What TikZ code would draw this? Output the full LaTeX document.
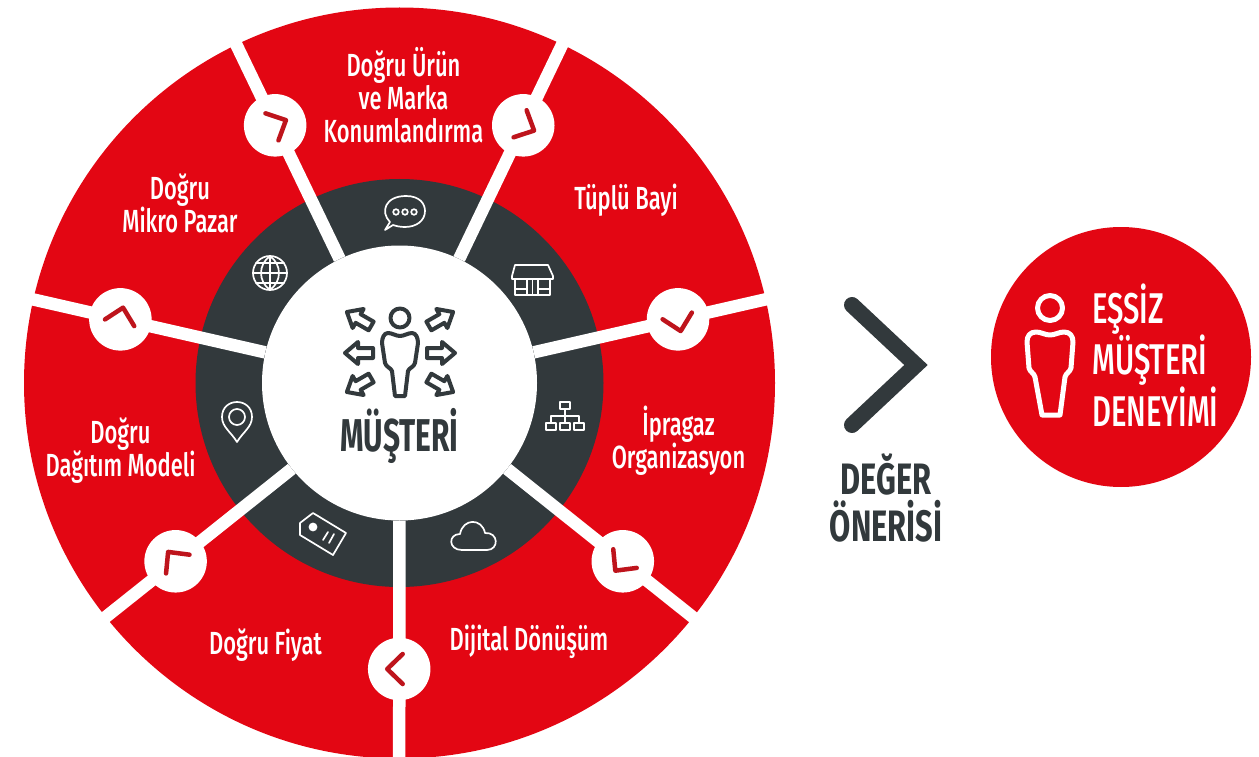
\documentclass[tikz,border=0pt]{standalone}
\usepackage{fontspec}
\setmainfont{Fira Sans}
\newfontfamily\labfont[FakeStretch=0.685]{Fira Sans Medium}
\newfontfamily\expfont[FakeStretch=0.68]{Fira Sans Medium}
\newfontfamily\hubfont[FakeStretch=0.65]{Fira Sans Bold}
\newfontfamily\medfont[FakeStretch=0.70]{Fira Sans Bold}
\definecolor{wheelred}{HTML}{E30613}
\definecolor{ringdark}{HTML}{32393C}
\definecolor{chevred}{HTML}{BE141C}
\tikzset{
  spoke/.style={draw=white,line width=12.5pt},
  chevnode/.style={circle,fill=white,minimum size=62.5pt,inner sep=0pt},
  chev/.style={draw=chevred,line width=4.5pt,line cap=round,line join=round},
  wlabel/.style={text=white,align=center,font=\fontsize{32}{33}\selectfont\labfont,inner sep=0pt},
  darklabel/.style={text=ringdark,align=center,inner sep=0pt},
  whiteicon/.style={draw=white,line width=1.7pt,line join=round,line cap=round},
  hubicon/.style={draw=ringdark,line width=4pt,line join=round,line cap=round},
  bigperson/.style={draw=white,line width=5pt,line join=round,line cap=round},
}
\newcommand{\hubarrow}[3]{%
  \draw[hubicon,shift={(#1,#2)},rotate=#3] (14,0)--(1,-11)--(1,-5)--(-14,-5)--(-14,5)--(1,5)--(1,11)--cycle;}
\newcommand{\wheelchev}[2]{%
  \draw[chev,shift={(#1.center)},rotate=#2] (-3.5,-15)--(12,0)--(-3.5,15);}
\begin{document}
\begin{tikzpicture}[x=1pt,y=-1pt]
\useasboundingbox (0,0) rectangle (1259,757);
\fill[wheelred] (399.5,383) circle[radius=375.5];
\fill[ringdark] (399.5,383) circle[radius=204];
\node[circle,fill=white,minimum size=275pt,inner sep=0pt] (hub) at (399.5,383) {};
% rim ends and chevron circles
\begin{scope}[shift={(399.2,383)}]
\coordinate (r1) at (90:382);
\coordinate (r2) at (141.43:382);
\coordinate (r3) at (192.86:382);
\coordinate (r4) at (244.29:382);
\coordinate (r5) at (295.71:382);
\coordinate (r6) at (347.14:382);
\coordinate (r7) at (38.57:382);
\coordinate (p1) at (90:286);
\coordinate (p2) at (141.43:286);
\coordinate (p3) at (192.86:286);
\coordinate (p4) at (244.29:286);
\coordinate (p5) at (295.71:286);
\coordinate (p6) at (347.14:286);
\coordinate (p7) at (38.57:286);
\end{scope}
\foreach \i in {1,...,7}{\draw[spoke] (hub) -- (r\i);}
\node[chevnode] (c1) at (p1) {};
\node[chevnode] (c2) at (p2) {};
\node[chevnode] (c3) at (p3) {};
\node[chevnode] (c4) at (p4) {};
\node[chevnode] (c5) at (p5) {};
\node[chevnode] (c6) at (p6) {};
\node[chevnode] (c7) at (p7) {};
\wheelchev{c1}{180}
\wheelchev{c2}{-231.43}
\wheelchev{c3}{-282.86}
\wheelchev{c4}{-334.29}
\wheelchev{c5}{-385.71}
\wheelchev{c6}{-437.14}
\wheelchev{c7}{-128.57}
% wheel labels
\node[wlabel] (l1) at (403.5,95) {Doğru Ürün\\ve Marka\\Konumlandırma};
\node[wlabel] (l2) at (626,200) {Tüplü Bayi};
\node[wlabel] (l3) at (678.5,441) {İpragaz\\Organizasyon};
\node[wlabel] (l4) at (529,642) {Dijital Dönüşüm};
\node[wlabel] (l5) at (265.5,645) {Doğru Fiyat};
\node[wlabel] (l6) at (120.5,451) {Doğru\\Dağıtım Modeli};
\node[wlabel] (l7) at (180,203) {Doğru\\Mikro Pazar};
% chat icon
\draw[whiteicon] (390,222) .. controls (380,212) and (385,196) .. (406,196) .. controls (420,196) and (425,204) .. (425,211) .. controls (425,221) and (416,227) .. (405,227) .. controls (400,227) and (396,226) .. (393,225) -- (385,230) -- cycle;
\draw[whiteicon] (396,212) circle[radius=2.8] (405,212) circle[radius=2.8] (414,212) circle[radius=2.8];
% store icon
\draw[whiteicon] (515,265)--(548,265)--(553,276)--(553,279)--(512,279)--(512,276)--cycle;
\draw[whiteicon] (515,279)--(515,295)--(550,295)--(550,279);
\draw[whiteicon] (527,279)--(527,295) (538,279)--(538,295) (532.5,279)--(532.5,295) (515,289)--(527,289) (538,289)--(550,289);
% org chart icon
\draw[whiteicon] (560,402) rectangle (570,409);
\draw[whiteicon] (565,409)--(565,423) (551,423)--(551,416)--(579,416)--(579,423);
\draw[whiteicon] (546,423) rectangle (556,430) (560,423) rectangle (570,430) (574,423) rectangle (584,430);
% cloud icon
\draw[whiteicon] (462,550) .. controls (448,550) and (448,534) .. (460,534) .. controls (463,518) and (482,518) .. (485,533) .. controls (499,532) and (499,550) .. (487,550) -- cycle;
% tag icon
\draw[whiteicon] (300,523)--(313,513)--(346,533)--(333,555)--(300,535)--cycle;
\draw[whiteicon,fill=white] (313,527) circle[radius=3.5];
\draw[whiteicon] (323,540)--(328,532) (329,543)--(334,534);
% pin icon
\draw[whiteicon] (237,442) .. controls (231,432) and (222,427) .. (222,417) .. controls (222,397) and (252,397) .. (252,417) .. controls (252,427) and (243,432) .. (237,442) -- cycle;
\draw[whiteicon] (237,417) circle[radius=8];
% globe icon
\draw[whiteicon] (270,273) circle[radius=17];
\draw[whiteicon] (270,256)--(270,290) (253,273)--(287,273) (256,263)--(284,263) (256,283)--(284,283);
\draw[whiteicon] (270,256) .. controls (258,265) and (258,281) .. (270,290) .. controls (282,281) and (282,265) .. (270,256);
% hub person
\draw[hubicon] (400,318) circle[radius=9.5];
\draw[hubicon] (400,336) .. controls (396,336) and (392,333) .. (388,333) .. controls (384,333) and (382,338) .. (382,343) -- (385,363) .. controls (386,367) and (391,368) .. (392,371) -- (395,396) -- (405,396) -- (408,371) .. controls (409,368) and (414,367) .. (415,363) -- (418,343) .. controls (418,338) and (416,333) .. (412,333) .. controls (408,333) and (404,336) .. (400,336) -- cycle;
\hubarrow{359}{353}{180}
\hubarrow{441}{353}{0}
\hubarrow{359}{319}{150}
\hubarrow{441}{319}{30}
\hubarrow{359}{385}{210}
\hubarrow{441}{385}{-30}
\node[darklabel,font=\fontsize{46}{46}\selectfont\hubfont,anchor=base] (must) at (399.5,451) {MÜŞTERİ};
% value chevron
\draw[draw=ringdark,line width=16pt,line cap=round,line join=miter] (852,305) -- (916,365) -- (852,425);
\node[darklabel,font=\fontsize{44}{47}\selectfont\medfont] (deger) at (886,498) {DEĞER\\ÖNERİSİ};
% experience circle
\node[circle,fill=wheelred,minimum size=260pt,inner sep=0pt] (exp) at (1121,357) {};
\draw[bigperson] (1050,308) circle[radius=12.5];
\draw[bigperson] (1050,335) .. controls (1045,335) and (1041,332) .. (1036,332) .. controls (1030,332) and (1027,336) .. (1027,342) -- (1029,368) .. controls (1030,372) and (1034,373) .. (1035,377) -- (1042,415) -- (1060,415) -- (1065,377) .. controls (1066,373) and (1070,372) .. (1071,368) -- (1073,342) .. controls (1073,336) and (1070,332) .. (1064,332) .. controls (1059,332) and (1055,335) .. (1050,335) -- cycle;
\node[text=white,align=left,font=\fontsize{43}{46}\selectfont\expfont,inner sep=0pt,anchor=west] (exptext) at (1092,355) {EŞSİZ\\MÜŞTERİ\\DENEYİMİ};
\end{tikzpicture}
\end{document}
